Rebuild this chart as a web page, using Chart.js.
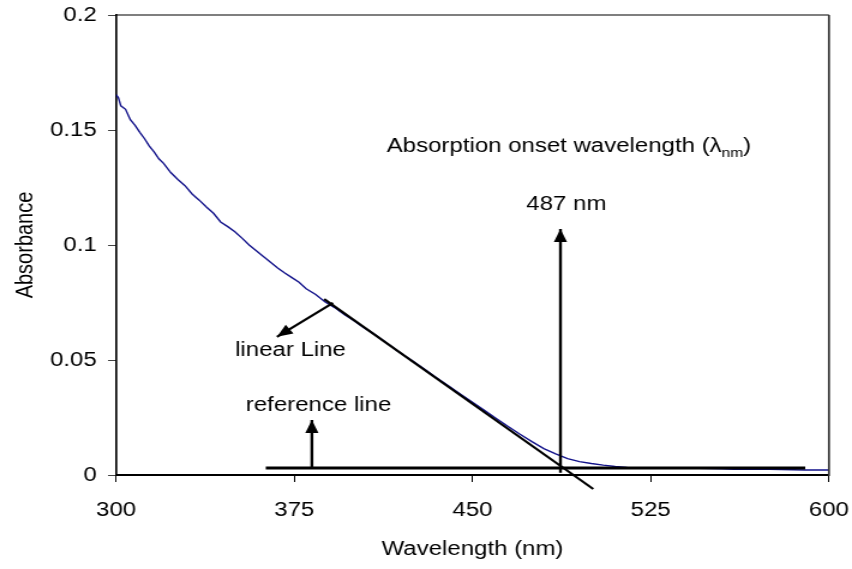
<!DOCTYPE html>
<html>
<head>
<meta charset="utf-8">
<script src="https://cdn.jsdelivr.net/npm/chart.js@4.4.1/dist/chart.umd.min.js"></script>
<style>
  html, body { margin: 0; padding: 0; background: #fff; }
  #absChart { display: block; }
</style>
</head>
<body>
<!-- drawn at 710 wide, shown stretched to 852 -->
<canvas id="absChart" width="710" height="569" style="width:852px;height:569px"></canvas>
<script>
// UV-vis absorption spectrum
var wavelength = [300, 301, 302, 304, 306, 308, 310, 312, 314, 316, 318, 320, 323, 326, 329, 332, 335, 338, 341, 344,
  347, 350, 353, 356, 359, 362, 365, 368, 371, 374, 377, 380, 384, 388, 392, 396, 400, 404, 408, 412,
  416, 420, 425, 430, 435, 440, 445, 450, 455, 460, 465, 470, 475, 480, 485, 490, 495, 500, 505, 510,
  515, 520, 525, 530, 535, 540, 545, 550, 555, 560, 565, 570, 575, 580, 585, 590, 595, 600];
var absorbance = [0.1654, 0.1640, 0.1605, 0.1590, 0.1545, 0.1520, 0.1490, 0.1462, 0.1430, 0.1405, 0.1375, 0.1355, 0.1315, 0.1285, 0.1258, 0.1222, 0.1195, 0.1165, 0.1138, 0.1100,
  0.1080, 0.1058, 0.1030, 0.1000, 0.0975, 0.0950, 0.0925, 0.0900, 0.0878, 0.0858, 0.0838, 0.0810, 0.0785, 0.0752, 0.0728, 0.0698, 0.0672, 0.0643, 0.0617, 0.0588,
  0.0558, 0.0528, 0.0494, 0.0458, 0.0422, 0.0387, 0.0351, 0.0316, 0.0281, 0.0246, 0.0211, 0.0177, 0.0145, 0.0115, 0.0092, 0.0071, 0.0058, 0.0050, 0.0043, 0.0037,
  0.0033, 0.0031, 0.0030, 0.0030, 0.0029, 0.0030, 0.0029, 0.0028, 0.0027, 0.0025, 0.0025, 0.0025, 0.0025, 0.0024, 0.0023, 0.0022, 0.0022, 0.0022];

// tangent (linear) line and baseline (reference line)
var fitX = [387.6, 500.8];
var fitY = [0.0765, -0.0061];
var refX = [363, 590];
var refY = [0.003, 0.003];

// onset wavelength
var onsetNm = 487;
var onsetY = [0.001, 0.107];

// pointer arrows [tail, tip]
var refArrowX = [382.4, 382.4];
var refArrowY = [0.003, 0.0239];
var fitArrowX = [391.3, 367.7];
var fitArrowY = [0.0748, 0.0601];

var xTicks = [300, 375, 450, 525, 600];
var yTicks = [0, 0.05, 0.1, 0.15, 0.2];

// text notes, placed in data units
var notes = [
  { text: 'linear Line', x: 373.4, y: 0.0543 },
  { text: 'reference line', x: 385.2, y: 0.0302 },
  { text: onsetNm + ' nm', x: 489.5, y: 0.1174 }
];

var FONT = '"Liberation Sans", Arial, sans-serif';
Chart.defaults.font.family = FONT;
Chart.defaults.font.size = 20;
Chart.defaults.color = '#000';

function xy(xs, ys) {
  return xs.map(function (x, i) { return { x: x, y: ys[i] }; });
}

function lineSet(label, data, width, color) {
  return {
    label: label,
    data: data,
    showLine: true,
    borderColor: color || '#000',
    borderWidth: width,
    pointRadius: 0,
    fill: false
  };
}

var onsetArrow = lineSet('onset', xy([onsetNm, onsetNm], onsetY), 2.4);
onsetArrow.arrow = true;
var refArrow = lineSet('refArrow', xy(refArrowX, refArrowY), 2.4);
refArrow.arrow = true;
var fitArrow = lineSet('fitArrow', xy(fitArrowX, fitArrowY), 2.2);
fitArrow.arrow = true;
var fitLine = lineSet('linear', xy(fitX, fitY), 2.2);
fitLine.clip = false;

// arrow heads at the last point of flagged datasets
var arrowHeads = {
  id: 'arrowHeads',
  afterDatasetsDraw: function (chart) {
    var ctx = chart.ctx;
    chart.data.datasets.forEach(function (ds, i) {
      if (!ds.arrow) return;
      var pts = chart.getDatasetMeta(i).data;
      var a = pts[pts.length - 2], b = pts[pts.length - 1];
      var ang = Math.atan2(b.y - a.y, b.x - a.x);
      var len = 13, half = 5.5;
      ctx.save();
      ctx.translate(b.x, b.y);
      ctx.rotate(ang);
      ctx.beginPath();
      ctx.moveTo(0, 0);
      ctx.lineTo(-len, -half);
      ctx.lineTo(-len, half);
      ctx.closePath();
      ctx.fillStyle = '#000';
      ctx.fill();
      ctx.restore();
    });
  }
};

// top/right frame of the plot area and the text notes
var extras = {
  id: 'extras',
  afterDraw: function (chart) {
    var ctx = chart.ctx, area = chart.chartArea;
    var sx = chart.scales.x, sy = chart.scales.y;
    ctx.save();
    ctx.strokeStyle = '#000';
    ctx.lineWidth = 1.2;
    ctx.beginPath();
    ctx.moveTo(area.left, area.top);
    ctx.lineTo(area.right, area.top);
    ctx.stroke();
    ctx.strokeStyle = '#333';
    ctx.lineWidth = 1.7;
    ctx.beginPath();
    ctx.moveTo(area.right, area.top);
    ctx.lineTo(area.right, area.bottom + 1);
    ctx.stroke();

    ctx.fillStyle = '#000';
    ctx.font = '20px ' + FONT;
    ctx.textAlign = 'center';
    ctx.textBaseline = 'middle';
    notes.forEach(function (n) {
      ctx.fillText(n.text, sx.getPixelForValue(n.x), sy.getPixelForValue(n.y));
    });

    // heading with subscript
    var tx = sx.getPixelForValue(413.9), ty = sy.getPixelForValue(0.1427);
    ctx.textAlign = 'left';
    var main = 'Absorption onset wavelength (\u03bb';
    ctx.fillText(main, tx, ty);
    tx += ctx.measureText(main).width;
    ctx.font = '13px ' + FONT;
    ctx.fillText('nm', tx, ty + 7);
    tx += ctx.measureText('nm').width;
    ctx.font = '20px ' + FONT;
    ctx.fillText(')', tx, ty);
    ctx.restore();
  }
};

new Chart(document.getElementById('absChart'), {
  type: 'scatter',
  data: {
    datasets: [
      onsetArrow,
      refArrow,
      fitArrow,
      lineSet('reference', xy(refX, refY), 3),
      fitLine,
      lineSet('absorbance', xy(wavelength, absorbance), 1.4, '#12128a')
    ]
  },
  options: {
    responsive: false,
    animation: false,
    devicePixelRatio: 1,
    layout: { padding: { top: 15, right: 19.2, bottom: 0, left: 0 } },
    plugins: { legend: { display: false }, tooltip: { enabled: false } },
    scales: {
      x: {
        type: 'linear',
        min: 300,
        max: 600,
        afterBuildTicks: function (s) { s.ticks = xTicks.map(function (v) { return { value: v }; }); },
        afterFit: function (s) {
          s.height = 94;
          s.paddingLeft = 0;
          s.paddingRight = 0;
        },
        ticks: { padding: 16, color: '#000' },
        grid: { drawOnChartArea: false, drawTicks: true, tickLength: 7, tickColor: '#000', tickWidth: 1 },
        border: { display: true, color: '#000', width: 2 },
        title: { display: true, text: 'Wavelength (nm)', color: '#000', padding: { top: 0, bottom: 8 } }
      },
      y: {
        min: 0,
        max: 0.2,
        afterBuildTicks: function (s) { s.ticks = yTicks.map(function (v) { return { value: v }; }); },
        afterFit: function (s) {
          s.width = 96.7;
          s.paddingTop = 0;
          s.paddingBottom = 0;
        },
        ticks: {
          padding: 9.4,
          color: '#000',
          callback: function (v) { return String(Math.round(v * 100) / 100); }
        },
        grid: { drawOnChartArea: false, drawTicks: true, tickLength: 6.7, tickColor: '#444', tickWidth: 1 },
        border: { display: true, color: '#000', width: 1.7 },
        title: { display: true, text: 'Absorbance', color: '#000', padding: { top: 9, bottom: 0 } }
      }
    }
  },
  plugins: [arrowHeads, extras]
});
</script>
</body>
</html>
